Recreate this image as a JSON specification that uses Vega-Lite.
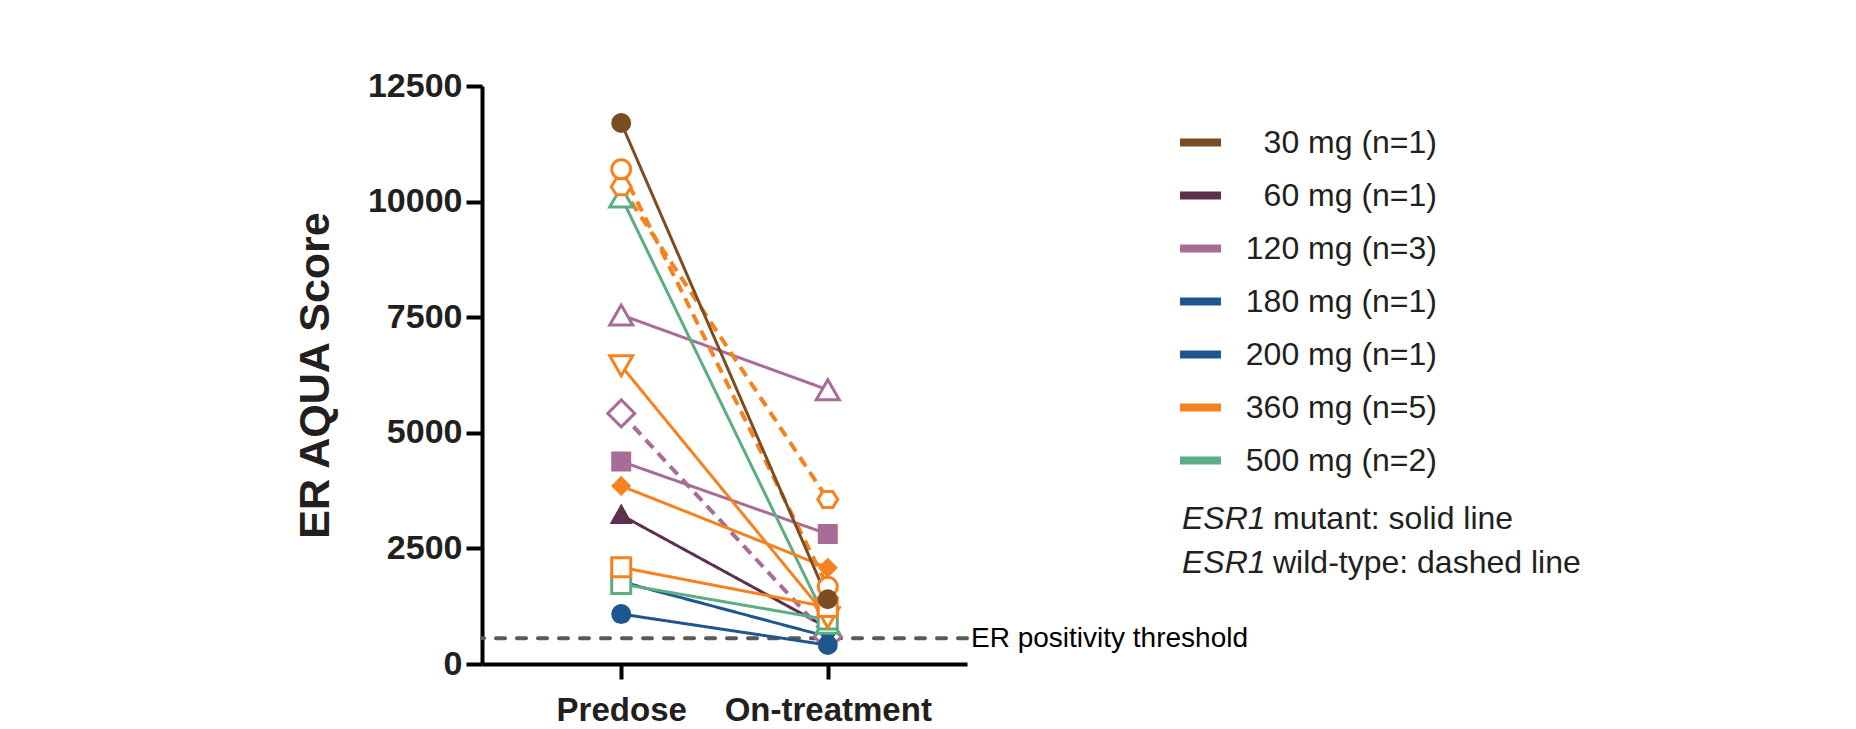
{
  "$schema": "https://vega.github.io/schema/vega-lite/v6.json",
  "width": 485,
  "height": 578,
  "autosize": {"type": "none"},
  "padding": {"left": 482, "top": 86, "right": 889, "bottom": 65},
  "background": "white",
  "config": {
    "font": "Liberation Sans",
    "view": {"stroke": null},
    "axis": {"grid": false, "domainColor": "#000000", "domainWidth": 4, "tickColor": "#000000", "tickWidth": 4, "labelColor": "#231F20", "titleColor": "#231F20", "labelFont": "Liberation Sans", "titleFont": "Liberation Sans"}
  },
  "datasets": {
    "scores": [
      {"patient": "P2", "dose": "60 mg (n=1)", "mutation": "mutant", "time": "Predose", "score": 3220},
      {"patient": "P2", "dose": "60 mg (n=1)", "mutation": "mutant", "time": "On-treatment", "score": 780},
      {"patient": "P3", "dose": "120 mg (n=3)", "mutation": "mutant", "time": "Predose", "score": 7550},
      {"patient": "P3", "dose": "120 mg (n=3)", "mutation": "mutant", "time": "On-treatment", "score": 5930},
      {"patient": "P4", "dose": "120 mg (n=3)", "mutation": "mutant", "time": "Predose", "score": 4380},
      {"patient": "P4", "dose": "120 mg (n=3)", "mutation": "mutant", "time": "On-treatment", "score": 2810},
      {"patient": "P5", "dose": "120 mg (n=3)", "mutation": "wild-type", "time": "Predose", "score": 5420},
      {"patient": "P5", "dose": "120 mg (n=3)", "mutation": "wild-type", "time": "On-treatment", "score": 590},
      {"patient": "P6", "dose": "180 mg (n=1)", "mutation": "mutant", "time": "Predose", "score": 1080},
      {"patient": "P6", "dose": "180 mg (n=1)", "mutation": "mutant", "time": "On-treatment", "score": 410},
      {"patient": "P7", "dose": "200 mg (n=1)", "mutation": "mutant", "time": "Predose", "score": 1780},
      {"patient": "P7", "dose": "200 mg (n=1)", "mutation": "mutant", "time": "On-treatment", "score": 590},
      {"patient": "P13", "dose": "500 mg (n=2)", "mutation": "mutant", "time": "Predose", "score": 10100},
      {"patient": "P13", "dose": "500 mg (n=2)", "mutation": "mutant", "time": "On-treatment", "score": 880},
      {"patient": "P14", "dose": "500 mg (n=2)", "mutation": "mutant", "time": "Predose", "score": 1730},
      {"patient": "P14", "dose": "500 mg (n=2)", "mutation": "mutant", "time": "On-treatment", "score": 960},
      {"patient": "P8", "dose": "360 mg (n=5)", "mutation": "wild-type", "time": "Predose", "score": 10700},
      {"patient": "P8", "dose": "360 mg (n=5)", "mutation": "wild-type", "time": "On-treatment", "score": 1670},
      {"patient": "P9", "dose": "360 mg (n=5)", "mutation": "wild-type", "time": "Predose", "score": 10320},
      {"patient": "P9", "dose": "360 mg (n=5)", "mutation": "wild-type", "time": "On-treatment", "score": 3560},
      {"patient": "P10", "dose": "360 mg (n=5)", "mutation": "mutant", "time": "Predose", "score": 6450},
      {"patient": "P10", "dose": "360 mg (n=5)", "mutation": "mutant", "time": "On-treatment", "score": 1000},
      {"patient": "P11", "dose": "360 mg (n=5)", "mutation": "mutant", "time": "Predose", "score": 3850},
      {"patient": "P11", "dose": "360 mg (n=5)", "mutation": "mutant", "time": "On-treatment", "score": 2080},
      {"patient": "P12", "dose": "360 mg (n=5)", "mutation": "mutant", "time": "Predose", "score": 2090},
      {"patient": "P12", "dose": "360 mg (n=5)", "mutation": "mutant", "time": "On-treatment", "score": 1230},
      {"patient": "P1", "dose": "30 mg (n=1)", "mutation": "mutant", "time": "Predose", "score": 11700},
      {"patient": "P1", "dose": "30 mg (n=1)", "mutation": "mutant", "time": "On-treatment", "score": 1400}
    ],
    "threshold": [
      {"score": 557, "label": "ER positivity threshold"}
    ]
  },
  "encoding": {
    "y": {
      "field": "score",
      "type": "quantitative",
      "scale": {"domain": [0, 12500], "nice": false, "zero": true},
      "axis": {
        "values": [0, 2500, 5000, 7500, 10000, 12500],
        "format": "d",
        "title": "ER AQUA Score",
        "titleFontSize": 43,
        "titleFontWeight": "bold",
        "titlePadding": 30,
        "labelFontSize": 34,
        "labelFontWeight": "bold",
        "labelPadding": 4,
        "tickSize": 16
      }
    }
  },
  "layer": [
    {
      "data": {"name": "threshold"},
      "mark": {"type": "rule", "stroke": "#595959", "strokeWidth": 4, "strokeDash": [9, 12], "strokeCap": "round"},
      "encoding": {}
    },
    {
      "data": {"name": "threshold"},
      "mark": {"type": "text", "align": "left", "baseline": "middle", "dx": 4, "dy": 1, "fontSize": 28, "font": "Liberation Sans", "color": "#000000"},
      "encoding": {
        "x": {"value": "width"},
        "text": {"field": "label", "type": "nominal"}
      }
    },
    {
      "data": {"name": "scores"},
      "mark": {"type": "line", "strokeCap": "butt"},
      "encoding": {
        "x": {
          "field": "time",
          "type": "nominal",
          "sort": ["Predose", "On-treatment"],
          "scale": {"type": "point", "padding": 0.674},
          "axis": {"title": null, "labelAngle": 0, "labelFontSize": 33, "labelFontWeight": "bold", "labelLimit": 400, "tickSize": 15, "labelPadding": 15}
        },
        "detail": {"field": "patient", "type": "nominal"},
        "stroke": {
          "field": "dose",
          "type": "nominal",
          "scale": {
            "domain": ["30 mg (n=1)", "60 mg (n=1)", "120 mg (n=3)", "180 mg (n=1)", "200 mg (n=1)", "360 mg (n=5)", "500 mg (n=2)"],
            "range": ["#7B4D22", "#5E3050", "#A86C96", "#1E578E", "#1E578E", "#F5821F", "#5BAD82"]
          },
          "legend": {
            "title": null,
            "orient": "none",
            "legendX": 694,
            "legendY": 32,
            "padding": 0,
            "symbolType": "stroke",
            "symbolSize": 1681,
            "symbolStrokeWidth": 8,
            "labelFontSize": 32,
            "labelFont": "Liberation Sans",
            "labelColor": "#231F20",
            "labelAlign": "right",
            "labelOffset": 212,
            "labelLimit": 400,
            "rowPadding": 12
          }
        },
        "strokeDash": {
          "field": "mutation",
          "type": "nominal",
          "scale": {"domain": ["mutant", "wild-type"], "range": [[1, 0], [11, 7]]},
          "legend": {
            "title": null,
            "orient": "none",
            "legendX": 668,
            "legendY": 417,
            "padding": 0,
            "symbolSize": 0,
            "symbolOpacity": 0,
            "symbolStrokeWidth": 0,
            "labelOffset": 0,
            "labelFontSize": 32,
            "labelFontStyle": "italic",
            "labelColor": "#231F20",
            "rowPadding": 12,
            "labelExpr": "'ESR1'"
          }
        },
        "strokeWidth": {
          "field": "mutation",
          "type": "ordinal",
          "scale": {"type": "point", "range": [3, 4], "padding": 0},
          "legend": {
            "title": null,
            "orient": "none",
            "legendX": 759,
            "legendY": 417,
            "padding": 0,
            "symbolSize": 0,
            "symbolOpacity": 0,
            "symbolStrokeWidth": 0,
            "labelOffset": 0,
            "labelFontSize": 32,
            "labelColor": "#231F20",
            "labelLimit": 500,
            "rowPadding": 12,
            "labelExpr": "datum.label == 'mutant' ? 'mutant: solid line' : 'wild-type: dashed line'"
          }
        }
      }
    },
    {
      "data": {"name": "scores"},
      "mark": {"type": "point", "size": 400, "strokeWidth": 3, "opacity": 1, "filled": false},
      "encoding": {
        "x": {"field": "time", "type": "nominal", "sort": ["Predose", "On-treatment"]},
        "stroke": {"field": "dose", "type": "nominal", "legend": null},
        "fill": {
          "field": "patient",
          "type": "nominal",
          "legend": null,
          "scale": {
            "domain": ["P1", "P2", "P3", "P4", "P5", "P6", "P7", "P8", "P9", "P10", "P11", "P12", "P13", "P14"],
            "range": ["#7B4D22", "#5E3050", "#FFFFFF", "#A86C96", "#FFFFFF", "#1E578E", "#1E578E", "#FFFFFF", "#FFFFFF", "#FFFFFF", "#F5821F", "#FFFFFF", "#FFFFFF", "#FFFFFF"]
          }
        },
        "shape": {
          "field": "patient",
          "type": "nominal",
          "legend": null,
          "scale": {
            "domain": ["P1", "P2", "P3", "P4", "P5", "P6", "P7", "P8", "P9", "P10", "P11", "P12", "P13", "P14"],
            "range": [
              "M-0.85,0A0.85,0.85 0 1,0 0.85,0A0.85,0.85 0 1,0 -0.85,0Z",
              "M0,-0.85L0.9,0.75L-0.9,0.75Z",
              "M0,-1L1.15,1L-1.15,1Z",
              "M-0.85,-0.85L0.85,-0.85L0.85,0.85L-0.85,0.85Z",
              "M0,-1.35L1.35,0L0,1.35L-1.35,0Z",
              "M-0.85,0A0.85,0.85 0 1,0 0.85,0A0.85,0.85 0 1,0 -0.85,0Z",
              "M0,0.8L0.85,-0.7L-0.85,-0.7Z",
              "M-0.95,0A0.95,0.95 0 1,0 0.95,0A0.95,0.95 0 1,0 -0.95,0Z",
              "M-1,0L-0.5,-0.8L0.5,-0.8L1,0L0.5,0.8L-0.5,0.8Z",
              "M0,1L1.15,-1L-1.15,-1Z",
              "M0,-0.8L0.8,0L0,0.8L-0.8,0Z",
              "M-0.95,-0.95L0.95,-0.95L0.95,0.95L-0.95,0.95Z",
              "M0,-1L1.15,1L-1.15,1Z",
              "M-0.95,-0.95L0.95,-0.95L0.95,0.95L-0.95,0.95Z"
            ]
          }
        }
      }
    }
  ]
}
